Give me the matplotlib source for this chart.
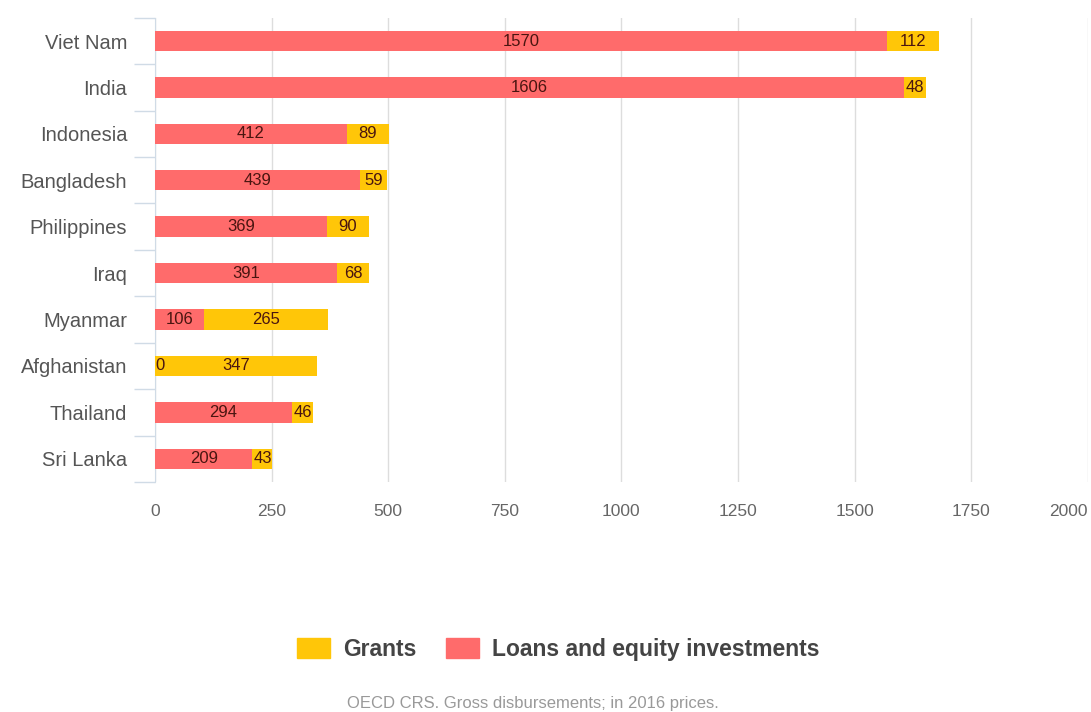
import matplotlib
matplotlib.use("Agg")
import matplotlib.pyplot as plt
from matplotlib.patches import Patch
import numpy as np

countries = ["Viet Nam", "India", "Indonesia", "Bangladesh", "Philippines",
             "Iraq", "Myanmar", "Afghanistan", "Thailand", "Sri Lanka"]
loans = [1570, 1606, 412, 439, 369, 391, 106, 0, 294, 209]
grants = [112, 48, 89, 59, 90, 68, 265, 347, 46, 43]
x_ticks = [0, 250, 500, 750, 1000, 1250, 1500, 1750, 2000]

LOAN_COLOR = "#FF6B6B"
GRANT_COLOR = "#FFC608"
LABEL_COLOR = "#4a1510"

plt.rcParams["font.family"] = ["Liberation Sans", "DejaVu Sans"]

fig = plt.figure(figsize=(10.91, 7.12), dpi=100)
ax = fig.add_axes([0.142, 0.323, 0.855, 0.652])

y = np.arange(len(countries))
h = 0.44
ax.barh(y, loans, height=h, color=LOAN_COLOR, zorder=3)
ax.barh(y, grants, left=loans, height=h, color=GRANT_COLOR, zorder=3)

for yi, lo, gr in zip(y, loans, grants):
    if lo == 0:
        ax.text(lo, yi, f"{lo}", ha="left", va="center", fontsize=12,
                color=LABEL_COLOR, zorder=4)
    else:
        ax.text(lo / 2, yi, f"{lo}", ha="center", va="center", fontsize=12,
                color=LABEL_COLOR, zorder=4)
    ax.text(lo + gr / 2, yi, f"{gr}", ha="center", va="center", fontsize=12,
            color=LABEL_COLOR, zorder=4)

ax.set_xlim(0, 2000)
ax.set_ylim(len(countries) - 0.5, -0.5)
ax.set_xticks(x_ticks)
ax.set_xticklabels([str(t) for t in x_ticks])
ax.tick_params(axis="x", length=0, pad=16, labelsize=12.5, labelcolor="#666666")
ax.get_xticklabels()[-1].set_horizontalalignment("right")

ax.set_yticks(y)
ax.set_yticklabels(countries)
ax.tick_params(axis="y", length=0, pad=20, labelsize=14.5, labelcolor="#555555")
# boundary ticks between categories
ax.set_yticks(np.arange(-0.5, len(countries) + 0.5, 1), minor=True)
ax.tick_params(axis="y", which="minor", length=15, width=1, color="#d0dbe6")

ax.grid(axis="x", color="#dddddd", linewidth=1, zorder=0)
for s in ["top", "right", "bottom"]:
    ax.spines[s].set_visible(False)
ax.spines["left"].set_color("#d0dbe6")

handles = [Patch(color=GRANT_COLOR), Patch(color=LOAN_COLOR)]
leg = fig.legend(handles, ["Grants", "Loans and equity investments"],
                 loc="center", bbox_to_anchor=(0.512, 0.088), ncol=2,
                 frameon=False, fontsize=16.5, handlelength=1.4, handleheight=1.0,
                 columnspacing=1.3, handletextpad=0.6)
for t in leg.get_texts():
    t.set_fontweight("bold")
    t.set_color("#444444")

fig.text(0.488, 0.012, "OECD CRS. Gross disbursements; in 2016 prices.",
         ha="center", va="center", fontsize=12, color="#999999")

fig.savefig("out.png", dpi=100, facecolor="white")
